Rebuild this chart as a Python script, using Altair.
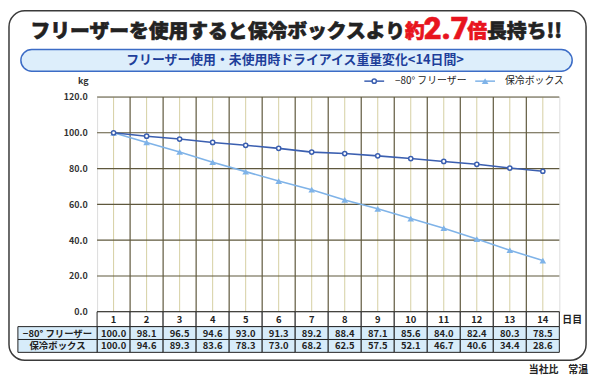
import altair as alt
import pandas as pd

days = list(range(1, 15))
freezer = [100.0, 98.1, 96.5, 94.6, 93.0, 91.3, 89.2, 88.4, 87.1, 85.6, 84.0, 82.4, 80.3, 78.5]
cooler = [100.0, 94.6, 89.3, 83.6, 78.3, 73.0, 68.2, 62.5, 57.5, 52.1, 46.7, 40.6, 34.4, 28.6]
series_names = ["−80°\u00a0フリーザー", "保冷ボックス"]
y_ticks = [0, 20, 40, 60, 80, 100, 120]

FONT = "Noto Sans CJK JP"
C_FREEZER = "#3B5FB0"
C_COOLER = "#7FB3E8"
GRID_DARK = "#5f583d"
GRID_LIGHT = "#d6cfa2"
TABLE_FILL = "#D7ECFA"

W, H = 467, 217

df = pd.DataFrame({"day": days, "freezer": freezer, "cooler": cooler})
ydf = pd.DataFrame({"v": y_ticks})
one = pd.DataFrame({"a": [0]})

xband = alt.Scale(type="band", domain=days, paddingInner=0, paddingOuter=0)
yscale = alt.Scale(domain=[0, 120], nice=False, zero=True)
yaxis = alt.Axis(values=y_ticks, format=".1f", grid=False, ticks=False, domain=False,
                 labelPadding=10, title=None, labelFontSize=9, labelOverlap=False,
                 labelFontWeight="bold", labelColor="#333", labelFont=FONT)


def X(bp=0.5):
    return alt.X("day:O", scale=xband, axis=None, bandPosition=bp)


def Y(field):
    return alt.Y(field, scale=yscale, axis=yaxis)


def label(text, x, y, size=10, color="#222", weight="bold", align="left", baseline="middle",
          font=FONT, heavy=False):
    extra = dict(stroke=color, strokeWidth=0.6) if heavy else {}
    return alt.Chart(one).mark_text(
        text=text, font=font, fontSize=size, fontWeight=weight, color=color,
        align=align, baseline=baseline, **extra,
    ).encode(x=alt.value(x), y=alt.value(y))


# decoration: outer rounded frame
frame = alt.Chart(one).mark_rect(
    fill="transparent", stroke="#3a3a3a", strokeWidth=1.5, cornerRadius=16
).encode(x=alt.value(-89), x2=alt.value(494), y=alt.value(-87), y2=alt.value(266))

# title pieces
TB = -60
title = [
    label("フリーザーを使用すると保冷ボックスより", 311, TB, size=20, color="#222", weight=900,
          align="right", baseline="alphabetic", heavy=True),
    label("約", 311, TB, size=20, color="#E8141E", weight=900, baseline="alphabetic",
          heavy=True),
    label("2.7", 330, TB + 1, size=31, color="#E8141E", weight=900, baseline="alphabetic",
          font="Roboto", heavy=True),
    label("倍", 374, TB, size=20, color="#E8141E", weight=900, baseline="alphabetic",
          heavy=True),
    label("長持ち!!", 394, TB, size=20, color="#222", weight=900, baseline="alphabetic",
          heavy=True),
]

subbox = alt.Chart(one).mark_rect(
    fill="#DDEEFB", stroke="#3C6CC6", strokeWidth=1.5, cornerRadius=11
).encode(x=alt.value(-77), x2=alt.value(480), y=alt.value(-48), y2=alt.value(-26))
subtitle = label("フリーザー使用・未使用時ドライアイス重量変化<14日間>", 200, -37, size=13,
                 color="#1E3E9A", align="center")

kg = label("kg", -14, -16, size=9, color="#333", align="center")

# legend
LY = -16
leg = [
    alt.Chart(one).mark_rule(color=C_FREEZER, strokeWidth=1.5).encode(
        x=alt.value(270), x2=alt.value(290), y=alt.value(LY)),
    alt.Chart(one).mark_point(shape="circle", filled=True, fill="white", stroke=C_FREEZER,
                              strokeWidth=1.5, size=18, opacity=1).encode(
        x=alt.value(280), y=alt.value(LY)),
    label(series_names[0], 301, LY, size=10, color="#222", weight="normal"),
    alt.Chart(one).mark_rule(color=C_COOLER, strokeWidth=1.5).encode(
        x=alt.value(382), x2=alt.value(402), y=alt.value(LY)),
    alt.Chart(one).mark_point(shape="triangle-up", filled=True, color=C_COOLER, size=45,
                              opacity=1).encode(x=alt.value(392), y=alt.value(LY)),
    label(series_names[1], 412, LY, size=10, color="#222", weight="normal"),
]

# plot grid
vcenter = alt.Chart(df).mark_rule(color=GRID_LIGHT, strokeWidth=1).encode(x=X(0.5))
vbound = alt.Chart(df[df.day > 1]).mark_rule(color=GRID_DARK, strokeWidth=1.2).encode(x=X(0))
hgrid = alt.Chart(ydf).mark_rule(color=GRID_DARK, strokeWidth=1.2).encode(y=Y("v:Q"))

line_f = alt.Chart(df).mark_line(color=C_FREEZER, strokeWidth=1.6).encode(
    x=X(), y=Y("freezer:Q"))
pts_f = alt.Chart(df).mark_point(shape="circle", filled=True, fill="white", stroke=C_FREEZER,
                                  strokeWidth=1.5, size=18, opacity=1).encode(
    x=X(), y=Y("freezer:Q"))
line_c = alt.Chart(df).mark_line(color=C_COOLER, strokeWidth=1.6).encode(
    x=X(), y=Y("cooler:Q"))
pts_c = alt.Chart(df).mark_point(shape="triangle-up", filled=True, color=C_COOLER, size=45,
                                  opacity=1).encode(x=X(), y=Y("cooler:Q"))

# table
R0, R1, R2, R3 = 217, 232, 245, 258
cells = []
for (ya, yb, fill) in [(R0, R1, "white"), (R1, R2, TABLE_FILL), (R2, R3, TABLE_FILL)]:
    cells.append(alt.Chart(df).mark_rect(fill=fill, stroke="#222", strokeWidth=1).encode(
        x=X(0), y=alt.value(ya), y2=alt.value(yb)))
for (ya, yb) in [(R1, R2), (R2, R3)]:
    cells.append(alt.Chart(one).mark_rect(fill=TABLE_FILL, stroke="#222", strokeWidth=1).encode(
        x=alt.value(-80), x2=alt.value(0), y=alt.value(ya), y2=alt.value(yb)))

tfont = dict(font=FONT, fontSize=9.5, fontWeight="bold", color="#222", baseline="middle",
             align="center")
txt_day = alt.Chart(df).mark_text(**tfont).encode(x=X(), y=alt.value((R0 + R1) / 2 + 0.5),
                                                  text="day:O")
txt_f = alt.Chart(df).mark_text(**tfont).encode(x=X(), y=alt.value((R1 + R2) / 2 + 0.5),
                                                text=alt.Text("freezer:Q", format=".1f"))
txt_c = alt.Chart(df).mark_text(**tfont).encode(x=X(), y=alt.value((R2 + R3) / 2 + 0.5),
                                                text=alt.Text("cooler:Q", format=".1f"))
row_lbls = [
    label(series_names[0], -40, (R1 + R2) / 2 + 0.5, size=9.5, align="center"),
    label(series_names[1], -40, (R2 + R3) / 2 + 0.5, size=9.5, align="center"),
]
day_unit = label("日目", 470, (R0 + R1) / 2 + 0.5, size=10)
note = label("当社比　常温", 496, 276, size=10, align="right")

chart = alt.layer(
    frame, *title, subbox, subtitle, kg, *leg,
    vcenter, vbound, hgrid, line_c, line_f, pts_c, pts_f,
    *cells, txt_day, txt_f, txt_c, *row_lbls, day_unit, note,
).properties(
    width=W, height=H,
    autosize=alt.AutoSizeParams(type="none"),
    padding={"left": 90, "top": 88, "right": 33, "bottom": 64},
).configure_view(
    fill="#FFFDCC", stroke="#555", strokeWidth=1
).configure(background="white")

chart.save("out.html", embed_options={"renderer": "svg", "actions": False})
